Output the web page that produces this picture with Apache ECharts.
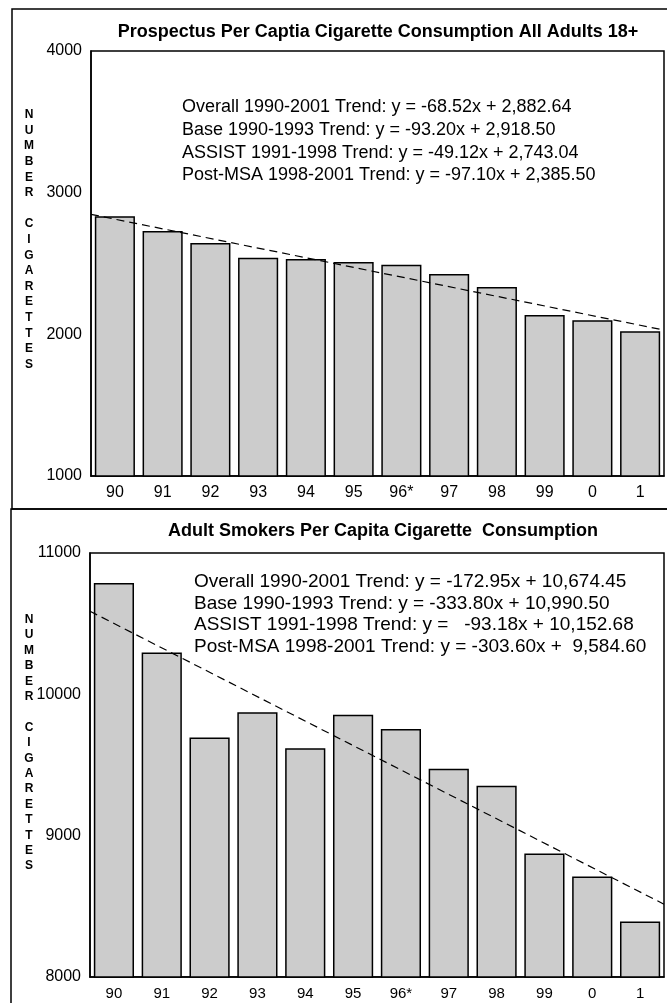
<!DOCTYPE html>
<html>
<head>
<meta charset="utf-8">
<script src="https://cdn.jsdelivr.net/npm/echarts@6/dist/echarts.min.js"></script>
<style>
html, body { margin: 0; padding: 0; background: #fff; }
#chart { width: 667px; height: 1003px; }
</style>
</head>
<body>
<div id="chart"></div>
<script>
var years = ['90', '91', '92', '93', '94', '95', '96*', '97', '98', '99', '0', '1'];
var allAdults = [2833, 2730, 2645, 2541, 2532, 2511, 2492, 2426, 2334, 2136, 2099, 2021];
var smokers = [10788, 10296, 9694, 9873, 9619, 9856, 9755, 9473, 9353, 8873, 8711, 8393];
// dashed trend line, value at left and right edge of the plot
var allAdultsTrend = [2847, 2030];
var smokersTrend = [10588, 8515];
var allAdultsEquations = [
    'Overall 1990-2001 Trend: y = -68.52x + 2,882.64',
    'Base 1990-1993 Trend: y = -93.20x + 2,918.50',
    'ASSIST 1991-1998 Trend: y = -49.12x + 2,743.04',
    'Post-MSA 1998-2001 Trend: y = -97.10x + 2,385.50'
];
var smokersEquations = [
    'Overall 1990-2001 Trend: y = -172.95x + 10,674.45',
    'Base 1990-1993 Trend: y = -333.80x + 10,990.50',
    'ASSIST 1991-1998 Trend: y =   -93.18x + 10,152.68',
    'Post-MSA 1998-2001 Trend: y = -303.60x +  9,584.60'
];
var yName = 'N\nU\nM\nB\nE\nR\n\nC\nI\nG\nA\nR\nE\nT\nT\nE\nS';

var FONT = '"Liberation Sans", Arial, sans-serif';
var NARROW = '"Liberation Sans Narrow", "Arial Narrow", "Liberation Sans", sans-serif';

var chart = echarts.init(document.getElementById('chart'));

function catAxis(grid, family, size) {
    return {
        type: 'category', gridIndex: grid, data: years,
        axisLine: { lineStyle: { color: '#000', width: 1.5 } },
        axisTick: { show: false },
        axisLabel: { color: '#000', fontFamily: family, fontSize: size, margin: 9 }
    };
}
function edgeAxis(grid) {
    return { type: 'value', gridIndex: grid, min: 0, max: 1, show: false };
}
function valAxis(grid, min, max, family, size) {
    return {
        type: 'value', gridIndex: grid, min: min, max: max, interval: 1000,
        splitLine: { show: false },
        axisLine: { show: true, lineStyle: { color: '#000', width: 1.5 } },
        axisTick: { show: false },
        axisLabel: {
            color: '#000', fontFamily: family, fontSize: size, margin: 9,
            formatter: function (v) { return String(v); }
        }
    };
}
function bars(xi, yi, data) {
    return {
        type: 'bar', xAxisIndex: xi, yAxisIndex: yi, data: data, barWidth: '84%',
        itemStyle: { color: '#cccccc', borderColor: '#000', borderWidth: 1.5 },
        silent: true
    };
}
function trend(xi, yi, ends) {
    return {
        type: 'line', xAxisIndex: xi, yAxisIndex: yi, z: 5,
        data: [[0, ends[0]], [1, ends[1]]],
        symbol: 'none', silent: true,
        lineStyle: { color: '#000', width: 1.2, type: [8, 5] }
    };
}

option = {
    animation: false,
    grid: [
        { left: 91, top: 51, right: 3, height: 425, show: true, borderColor: '#000', borderWidth: 1.5 },
        { left: 90, top: 553, right: 3, height: 424, show: true, borderColor: '#000', borderWidth: 1.5 }
    ],
    xAxis: [
        catAxis(0, FONT, 16), edgeAxis(0),
        catAxis(1, NARROW, 15), edgeAxis(1)
    ],
    yAxis: [
        valAxis(0, 1000, 4000, FONT, 16),
        valAxis(1, 8000, 11000, NARROW, 16)
    ],
    series: [
        bars(0, 0, allAdults), trend(1, 0, allAdultsTrend),
        bars(2, 1, smokers), trend(3, 1, smokersTrend)
    ],
    graphic: [
        { type: 'rect', shape: { x: 12, y: 9, width: 670, height: 500 },
          style: { fill: 'none', stroke: '#000', lineWidth: 1.5 }, silent: true },
        { type: 'rect', shape: { x: 11, y: 509, width: 670, height: 510 },
          style: { fill: 'none', stroke: '#000', lineWidth: 1.5 }, silent: true },
        { type: 'text', x: 378, y: 32, style: {
            text: 'Prospectus Per Captia Cigarette Consumption All Adults 18+',
            font: 'bold 18px ' + FONT, fill: '#000', align: 'center', verticalAlign: 'middle' } },
        { type: 'text', x: 383, y: 531, style: {
            text: 'Adult Smokers Per Capita Cigarette  Consumption',
            font: 'bold 18px ' + FONT, fill: '#000', align: 'center', verticalAlign: 'middle' } },
        { type: 'text', x: 182, y: 96, z: 10, style: {
            text: allAdultsEquations.join('\n'), font: '18px ' + FONT, fill: '#000',
            lineHeight: 22.7, verticalAlign: 'top' } },
        { type: 'text', x: 194, y: 571, z: 10, style: {
            text: smokersEquations.join('\n'), font: '19px ' + FONT, fill: '#000',
            lineHeight: 21.6, verticalAlign: 'top' } },
        { type: 'text', x: 29, y: 107, style: {
            text: yName, font: 'bold 12px ' + FONT, fill: '#000',
            align: 'center', lineHeight: 15.6, verticalAlign: 'top' } },
        { type: 'text', x: 29, y: 612, style: {
            text: yName, font: 'bold 12px ' + NARROW, fill: '#000',
            align: 'center', lineHeight: 15.4, verticalAlign: 'top' } }
    ]
};
chart.setOption(option);

window.addEventListener('resize', chart.resize);
</script>
</body>
</html>
